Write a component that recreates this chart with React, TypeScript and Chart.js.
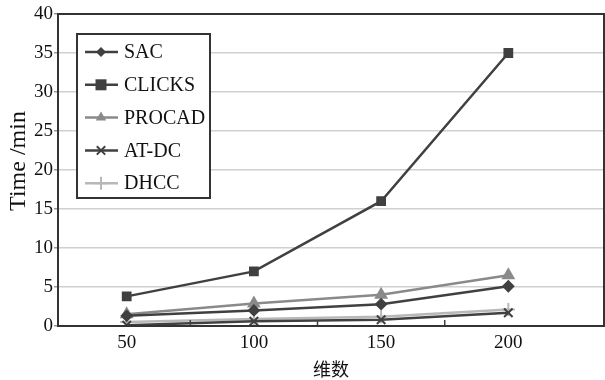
import React, { useEffect, useRef } from "react";
import { Chart, registerables } from "chart.js";

Chart.register(...registerables);

const dims = [50, 100, 150, 200];
const sac = [1.3, 2.0, 2.8, 5.1];
const clicks = [3.8, 7.0, 16.0, 35.0];
const procad = [1.5, 2.9, 4.0, 6.5];
const atdc = [0.1, 0.6, 0.8, 1.7];
const dhcc = [0.5, 0.9, 1.2, 2.1];
const seriesNames = ["SAC", "CLICKS", "PROCAD", "AT-DC", "DHCC"];
const yTicks = [0, 5, 10, 15, 20, 25, 30, 35, 40];
const minorX = [75, 125, 175];
const yTitle = "Time /min";
const xTitle = "维数";

const DARK = "#404040";
const MID = "#8a8a8a";
const LIGHT = "#b8b8b8";
const SERIF = "'Liberation Serif', 'Times New Roman', serif";
const AREA_RIGHT = 604;

const styles = [
  { color: DARK, point: "rectRot", r: 5 },
  { color: DARK, point: "rect", r: 5.5 },
  { color: MID, point: "triangle", r: 6 },
  { color: DARK, point: "crossRot", r: 6 },
  { color: LIGHT, point: "cross", r: 6.5 },
];

function drawPt(ctx: CanvasRenderingContext2D, style: string, r: number, x: number, y: number) {
  ctx.beginPath();
  if (style === "rect") {
    ctx.rect(x - r, y - r, 2 * r, 2 * r);
    ctx.fill();
  } else if (style === "rectRot") {
    ctx.moveTo(x, y - r);
    ctx.lineTo(x + r, y);
    ctx.lineTo(x, y + r);
    ctx.lineTo(x - r, y);
    ctx.closePath();
    ctx.fill();
  } else if (style === "triangle") {
    ctx.moveTo(x, y - r);
    ctx.lineTo(x + r * 0.87, y + r * 0.5);
    ctx.lineTo(x - r * 0.87, y + r * 0.5);
    ctx.closePath();
    ctx.fill();
  } else if (style === "crossRot") {
    const d = r * 0.7;
    ctx.moveTo(x - d, y - d);
    ctx.lineTo(x + d, y + d);
    ctx.moveTo(x + d, y - d);
    ctx.lineTo(x - d, y + d);
    ctx.stroke();
  } else {
    ctx.moveTo(x - r, y);
    ctx.lineTo(x + r, y);
    ctx.moveTo(x, y - r);
    ctx.lineTo(x, y + r);
    ctx.stroke();
  }
}

const stretch = {
  id: "stretch",
  afterLayout(chart: any) {
    const a = chart.chartArea;
    a.right = AREA_RIGHT;
    a.width = a.right - a.left;
    const xs = chart.scales.x;
    xs.right = AREA_RIGHT;
    xs.width = xs.right - xs.left;
    xs.configure();
  },
};

const frame = {
  id: "frame",
  afterDraw(chart: any) {
    const { ctx, chartArea: a } = chart;
    const xs = chart.scales.x;
    ctx.save();
    // minor ticks
    ctx.strokeStyle = DARK;
    ctx.lineWidth = 1.5;
    minorX.forEach((v) => {
      const px = xs.getPixelForValue(v);
      ctx.beginPath();
      ctx.moveTo(px, a.bottom);
      ctx.lineTo(px, a.bottom - 6);
      ctx.stroke();
    });
    // frame
    ctx.strokeStyle = "#333";
    ctx.lineWidth = 2;
    ctx.strokeRect(a.left, a.top, a.right - a.left, a.bottom - a.top);
    // y title
    ctx.save();
    ctx.translate(19, 161);
    ctx.rotate(-Math.PI / 2);
    ctx.fillStyle = "#111";
    ctx.font = `24px ${SERIF}`;
    ctx.textAlign = "center";
    ctx.textBaseline = "middle";
    ctx.fillText(yTitle, 0, 0);
    ctx.restore();
    // legend
    const lx = 77, ly = 34, lw = 133, lh = 164;
    ctx.fillStyle = "#fff";
    ctx.fillRect(lx, ly, lw, lh);
    ctx.strokeStyle = "#333";
    ctx.lineWidth = 2;
    ctx.strokeRect(lx, ly, lw, lh);
    chart.data.datasets.forEach((ds: any, i: number) => {
      const y = 52 + i * 32.8;
      ctx.strokeStyle = ds.borderColor;
      ctx.lineWidth = 2.5;
      ctx.beginPath();
      ctx.moveTo(85, y);
      ctx.lineTo(118, y);
      ctx.stroke();
      ctx.fillStyle = ds.borderColor;
      ctx.strokeStyle = ds.borderColor;
      ctx.lineWidth = 2;
      drawPt(ctx, ds.pointStyle, ds.pointRadius, 101, y);
      ctx.fillStyle = "#111";
      ctx.font = `20px ${SERIF}`;
      ctx.textBaseline = "middle";
      ctx.textAlign = "left";
      ctx.fillText(ds.label, 124, y + 1);
    });
    ctx.restore();
  },
};

export default function App() {
  const ref = useRef<HTMLCanvasElement>(null);
  useEffect(() => {
    const all = [sac, clicks, procad, atdc, dhcc];
    const chart = new Chart(ref.current!, {
      type: "line",
      data: {
        datasets: all.map((vals, i) => ({
          label: seriesNames[i],
          data: vals.map((v, j) => ({ x: dims[j], y: v })),
          borderColor: styles[i].color,
          backgroundColor: styles[i].color,
          pointStyle: styles[i].point as any,
          pointRadius: styles[i].r,
          pointBorderWidth: 2,
          borderWidth: 2.5,
          tension: 0,
        })),
      },
      options: {
        animation: false,
        responsive: false,
        layout: { padding: { top: 14, right: 1, left: 0, bottom: 0 } },
        plugins: { legend: { display: false }, tooltip: { enabled: false } },
        scales: {
          x: {
            type: "linear",
            min: 23,
            max: 237.6,
            afterBuildTicks: (s: any) => {
              s.ticks = dims.map((v) => ({ value: v }));
            },
            afterFit: (s: any) => {
              s.height = 54;
              s.paddingLeft = 0;
              s.paddingRight = 0;
            },
            grid: { display: false, drawTicks: false },
            border: { color: "#333", width: 2 },
            ticks: {
              color: "#111",
              font: { family: SERIF, size: 19 },
              padding: 6,
              maxRotation: 0,
            },
            title: {
              display: true,
              text: xTitle,
              color: "#111",
              font: { family: "'Noto Sans CJK SC', serif", size: 18 },
              padding: { top: 0, bottom: 0 },
            },
          },
          y: {
            min: 0,
            max: 40,
            afterBuildTicks: (s: any) => {
              s.ticks = yTicks.map((v) => ({ value: v }));
            },
            afterFit: (s: any) => {
              s.width = 58;
              s.paddingTop = 0;
              s.paddingBottom = 0;
            },
            grid: { color: "#d0d0d0", lineWidth: 1.5, tickLength: 4, tickColor: "#999" },
            border: { color: "#333", width: 2 },
            ticks: {
              color: "#111",
              font: { family: SERIF, size: 19 },
              padding: 1,
            },
          },
        },
      },
      plugins: [stretch, frame],
    });
    return () => chart.destroy();
  }, []);
  return (
    <div style={{ position: "absolute", left: 0, top: 0, width: 605, height: 380, background: "#fff" }}>
      <canvas ref={ref} width={605} height={380} style={{ width: 605, height: 380 }} />
    </div>
  );
}
